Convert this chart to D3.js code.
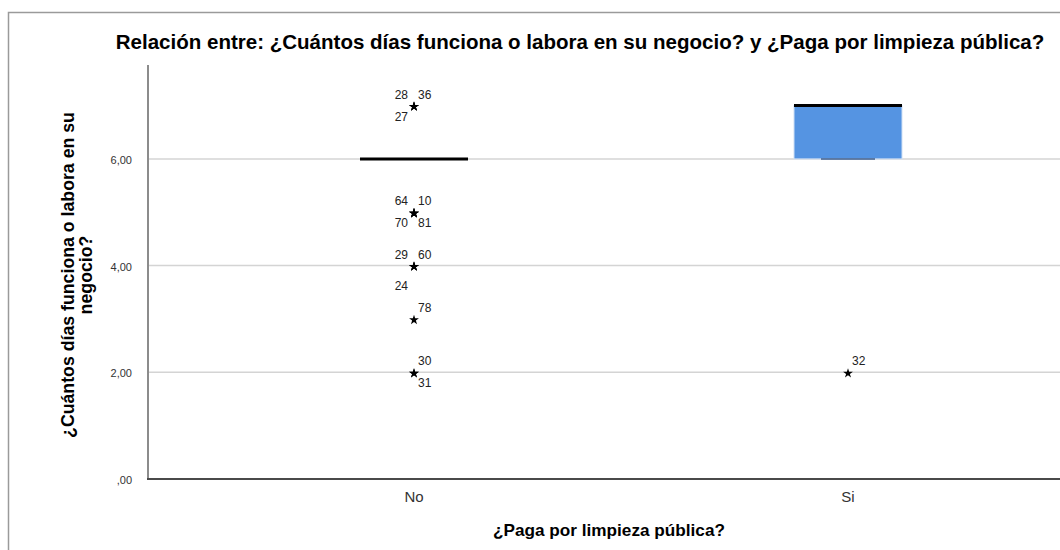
<!DOCTYPE html>
<html>
<head>
<meta charset="utf-8">
<script src="https://cdn.jsdelivr.net/npm/d3@7"></script>
<style>
  html, body { margin: 0; padding: 0; background: #fff; }
  svg { display: block; font-family: "Liberation Sans", Arial, sans-serif; }
</style>
</head>
<body>
<svg id="chart" width="1060" height="550"></svg>
<script>
// Groups on the x axis
const categories = ["No", "Si"];

// Box summaries per group (días que funciona el negocio)
const lowerWhisker = [6, 6];
const q1 = [6, 6];
const median = [6, 7];
const q3 = [6, 7];
const upperWhisker = [6, 7];

// Extreme cases (*) with their case numbers
const extremeGroup = ["No", "No", "No", "No", "No", "No", "No", "No", "No", "No", "No", "No", "No", "Si"];
const extremeValue = [7, 7, 7, 5, 5, 5, 5, 4, 4, 4, 3, 2, 2, 2];
const extremeCase  = [28, 36, 27, 64, 10, 70, 81, 29, 60, 24, 78, 30, 31, 32];

// Y axis ticks
const yTicks = [0, 2, 4, 6];
const yTickLabels = [",00", "2,00", "4,00", "6,00"];

const titleText = "Relación entre: ¿Cuántos días funciona o labora en su negocio? y ¿Paga por limpieza pública?";
const yTitleLines = ["¿Cuántos días funciona o labora en su", "negocio?"];
const xTitleText = "¿Paga por limpieza pública?";

// Where each case label sits around its star
const labelSpot = {
  28: "tl", 36: "tr", 27: "bl",
  64: "tl", 10: "tr", 70: "bl", 81: "br",
  29: "tl", 60: "tr", 24: "bl2",
  78: "tr", 30: "tr", 31: "br", 32: "tr"
};
const spotOffset = {
  tl: { dx: -6, dy: -7, anchor: "end" },
  tr: { dx: 4, dy: -7, anchor: "start" },
  bl: { dx: -6, dy: 15, anchor: "end" },
  br: { dx: 4, dy: 15, anchor: "start" },
  bl2: { dx: -6, dy: 24, anchor: "end" }
};

const svg = d3.select("#chart");

// outer frame
svg.append("rect")
  .attr("x", 8.5).attr("y", 12.5)
  .attr("width", 1100).attr("height", 600)
  .attr("fill", "none").attr("stroke", "#9a9a9a").attr("stroke-width", 1.5);

const plotLeft = 148, plotTop = 65, plotBottom = 479, plotRight = 1060;

const y = d3.scaleLinear().domain([0, 7.76]).range([plotBottom, plotTop]);
const x = d3.scaleBand().domain(categories).range([197, 1065]).paddingInner(0).paddingOuter(0);
const cx = c => x(c) + x.bandwidth() / 2;
const boxW = 108;

// gridlines
svg.append("g").selectAll("line")
  .data(yTicks.filter(t => t > 0))
  .join("line")
  .attr("x1", plotLeft).attr("x2", plotRight)
  .attr("y1", d => y(d)).attr("y2", d => y(d))
  .attr("stroke", "#d4d4d4").attr("stroke-width", 1.5);

// y axis
const yAxis = d3.axisLeft(y)
  .tickValues(yTicks)
  .tickFormat((d, i) => yTickLabels[i])
  .tickSize(0).tickPadding(16);
const gy = svg.append("g").attr("transform", `translate(${plotLeft},0)`).call(yAxis);
gy.select(".domain").remove();
gy.selectAll("text")
  .attr("font-size", 11).attr("fill", "#333").attr("font-family", "Liberation Sans, Arial, sans-serif")
  .attr("dy", "0.4em");
svg.append("line")
  .attr("x1", plotLeft).attr("x2", plotLeft)
  .attr("y1", plotTop).attr("y2", plotBottom)
  .attr("stroke", "#8c8c8c").attr("stroke-width", 2);

// x axis
const xAxis = d3.axisBottom(x).tickSize(0).tickPadding(12);
const gx = svg.append("g").attr("transform", `translate(0,${plotBottom})`).call(xAxis);
gx.select(".domain").remove();
gx.selectAll("text")
  .attr("font-size", 15).attr("fill", "#333").attr("font-family", "Liberation Sans, Arial, sans-serif");
svg.append("line")
  .attr("x1", plotLeft - 1).attr("x2", plotRight)
  .attr("y1", plotBottom).attr("y2", plotBottom)
  .attr("stroke", "#4a4a4a").attr("stroke-width", 2);

// boxes
const boxes = svg.append("g");
categories.forEach((c, i) => {
  const xc = cx(c);
  if (q3[i] > q1[i]) {
    boxes.append("rect")
      .attr("x", xc - boxW / 2).attr("y", y(q3[i]))
      .attr("width", boxW).attr("height", y(q1[i]) - y(q3[i]))
      .attr("fill", "#5594e2").attr("stroke", "#cfe0f6").attr("stroke-width", 1);
  }
  // whisker caps
  [lowerWhisker[i], upperWhisker[i]].forEach(w => {
    boxes.append("line")
      .attr("x1", xc - boxW / 4).attr("x2", xc + boxW / 4)
      .attr("y1", y(w)).attr("y2", y(w))
      .attr("stroke", "#3f5f8c").attr("stroke-width", 1.5);
  });
  // median
  boxes.append("line")
    .attr("x1", xc - boxW / 2).attr("x2", xc + boxW / 2)
    .attr("y1", y(median[i])).attr("y2", y(median[i]))
    .attr("stroke", "#000").attr("stroke-width", 3);
});

// extremes
const star = d3.symbol().type(d3.symbolStar).size(30);
const ext = svg.append("g");
extremeValue.forEach((v, i) => {
  const xc = cx(extremeGroup[i]);
  const yc = y(v);
  ext.append("path")
    .attr("d", star)
    .attr("transform", `translate(${xc},${yc + 1})`)
    .attr("fill", "#000");
  const o = spotOffset[labelSpot[extremeCase[i]]];
  ext.append("text")
    .attr("x", xc + o.dx).attr("y", yc + o.dy)
    .attr("text-anchor", o.anchor)
    .attr("font-size", 12).attr("fill", "#222")
    .text(extremeCase[i]);
});

// fit a text element to a target width by adjusting its font size
function fitWidth(sel, target) {
  const fs = parseFloat(sel.attr("font-size"));
  const w = sel.node().getComputedTextLength();
  sel.attr("font-size", (fs * target / w).toFixed(2));
}

// title
const title = svg.append("text")
  .attr("x", 580).attr("y", 49)
  .attr("text-anchor", "middle")
  .attr("font-size", 16).attr("font-weight", "bold").attr("fill", "#000")
  .text(titleText);
fitWidth(title, 929);

// y title
const yt = svg.append("text")
  .attr("transform", "translate(0,275) rotate(-90)")
  .attr("text-anchor", "middle")
  .attr("font-size", 14).attr("font-weight", "bold").attr("fill", "#000");
yt.append("tspan").attr("x", 0).attr("y", 74).text(yTitleLines[0]);
yt.append("tspan").attr("x", 0).attr("y", 92).text(yTitleLines[1]);
{
  const w = yt.select("tspan").node().getComputedTextLength();
  yt.attr("font-size", (14 * 326 / w).toFixed(2));
}

// x title
const xt = svg.append("text")
  .attr("x", 609).attr("y", 536)
  .attr("text-anchor", "middle")
  .attr("font-size", 14).attr("font-weight", "bold").attr("fill", "#000")
  .text(xTitleText);
fitWidth(xt, 232);
</script>
</body>
</html>
